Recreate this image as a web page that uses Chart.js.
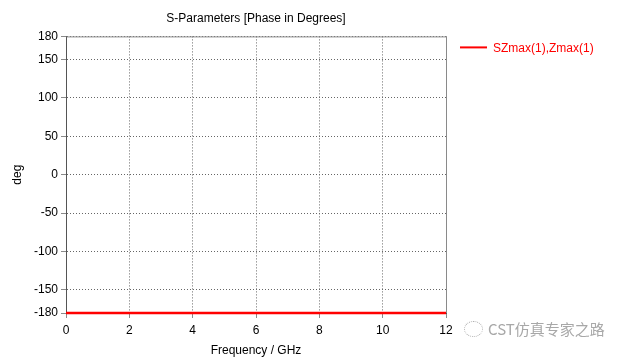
<!DOCTYPE html>
<html lang="en">
<head>
    <meta charset="UTF-8">
    <title>S-Parameters [Phase in Degrees]</title>
    <script src="https://cdn.jsdelivr.net/npm/chart.js"></script>
    <style>
        body { margin: 0; background: #fff; }
        #wrap { position: relative; width: 624px; height: 358px; }
        #watermark {
            position: absolute; left: 464px; top: 318px;
            font-family: "Noto Sans CJK SC", sans-serif; font-size: 15px; color: #a8a8a8;
        }
        #watermark .icon {
            display: inline-block; width: 17px; height: 14px; border: 1px dotted #b0b0b0;
            border-radius: 50%; vertical-align: -2px; margin-right: 5px;
        }
    </style>
</head>
<body>
    <div id="wrap">
        <canvas id="phaseChart" width="624" height="358"></canvas>
        <div id="watermark"><span class="icon"></span>CST仿真专家之路</div>
    </div>

    <script>
        const frequency = [0, 2, 4, 6, 8, 10, 12];
        const phase = [-180, -180, -180, -180, -180, -180, -180];
        const yTicks = [-180, -150, -100, -50, 0, 50, 100, 150, 180];
        const seriesName = 'SZmax(1),Zmax(1)';

        const font = { family: '"Liberation Sans", Arial, sans-serif', size: 12 };

        // frame on all four sides of the plot
        const framePlugin = {
            id: 'frame',
            afterDraw(chart) {
                const a = chart.chartArea;
                const ctx = chart.ctx;
                ctx.save();
                ctx.strokeStyle = '#8a8a8a';
                ctx.lineWidth = 1;
                ctx.setLineDash([]);
                ctx.beginPath();
                ctx.moveTo(a.left + 0.5, a.top + 0.5);
                ctx.lineTo(a.right + 0.5, a.top + 0.5);
                ctx.lineTo(a.right + 0.5, a.bottom);
                ctx.stroke();
                ctx.restore();
            }
        };

        // legend to the right of the plot
        const sideLegend = {
            id: 'sideLegend',
            afterDraw(chart) {
                const ctx = chart.ctx;
                const ds = chart.data.datasets[0];
                const x = chart.chartArea.right + 14;
                const y = chart.chartArea.top + 11;
                ctx.save();
                ctx.strokeStyle = ds.borderColor;
                ctx.lineWidth = 2;
                ctx.beginPath();
                ctx.moveTo(x, y);
                ctx.lineTo(x + 27, y);
                ctx.stroke();
                ctx.fillStyle = ds.borderColor;
                ctx.font = '12px ' + font.family;
                ctx.textBaseline = 'middle';
                ctx.fillText(ds.label, x + 33, y + 1);
                ctx.restore();
            }
        };

        new Chart(document.getElementById('phaseChart'), {
            type: 'line',
            data: {
                labels: frequency,
                datasets: [{
                    label: seriesName,
                    data: frequency.map((f, i) => ({ x: f, y: phase[i] })),
                    borderColor: '#ff0000',
                    borderWidth: 2.5,
                    pointRadius: 0,
                    clip: false
                }]
            },
            options: {
                responsive: false,
                animation: false,
                layout: { padding: { top: 0, right: 178, bottom: 0, left: 0 } },
                plugins: {
                    legend: { display: false },
                    tooltip: { enabled: false },
                    title: {
                        display: true,
                        text: 'S-Parameters [Phase in Degrees]',
                        fullSize: false,
                        color: '#000',
                        font: { family: font.family, size: 12, weight: 'normal' },
                        padding: { top: 11, bottom: 11 }
                    }
                },
                scales: {
                    x: {
                        type: 'linear',
                        min: 0,
                        max: 12,
                        ticks: { stepSize: 2, color: '#000', font: font, padding: 5, maxRotation: 0 },
                        grid: {
                            color: '#666', tickLength: 5,
                            tickColor: '#8a8a8a', tickBorderDash: []
                        },
                        border: { color: '#555', dash: [1, 2] },
                        title: { display: true, text: 'Frequency / GHz', color: '#000', font: font, padding: { top: 2, bottom: 0 } },
                        afterFit(s) { s.height = 45; }
                    },
                    y: {
                        min: -180,
                        max: 180,
                        afterBuildTicks(s) { s.ticks = yTicks.map(v => ({ value: v })); },
                        ticks: { color: '#000', font: font, padding: 3 },
                        grid: {
                            color: '#666', tickLength: 5,
                            tickColor: '#8a8a8a', tickBorderDash: []
                        },
                        border: { color: '#555', dash: [1, 2] },
                        title: { display: true, text: 'deg', color: '#000', font: font, padding: { top: 10, bottom: 0 } },
                        afterFit(s) { s.width = 66; }
                    }
                }
            },
            plugins: [framePlugin, sideLegend]
        });
    </script>
</body>
</html>
